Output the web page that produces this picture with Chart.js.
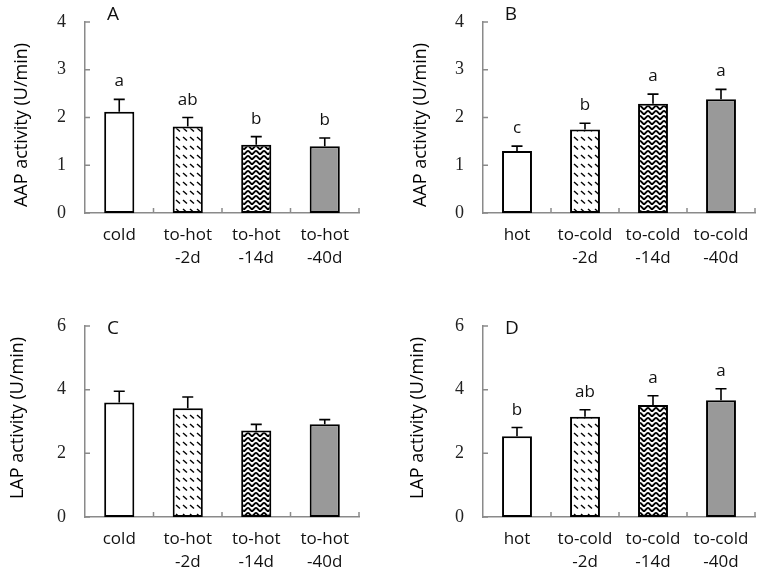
<!DOCTYPE html>
<html>
<head>
<meta charset="utf-8">
<script src="https://cdn.jsdelivr.net/npm/chart.js@4.4.0/dist/chart.umd.min.js"></script>
<style>
  html, body { margin: 0; padding: 0; background: #fff; }
  #grid { position: relative; width: 768px; height: 574px; }
  #grid canvas { position: absolute; }
</style>
</head>
<body>
<div id="grid">
  <canvas id="chartA" width="384" height="287" style="left:0;top:0"></canvas>
  <canvas id="chartB" width="384" height="287" style="left:384px;top:0"></canvas>
  <canvas id="chartC" width="384" height="287" style="left:0;top:287px"></canvas>
  <canvas id="chartD" width="384" height="287" style="left:384px;top:287px"></canvas>
</div>
<script>
// --- dati ---
const toHotLabels = [['cold'], ['to-hot', '-2d'], ['to-hot', '-14d'], ['to-hot', '-40d']];
const toColdLabels = [['hot'], ['to-cold', '-2d'], ['to-cold', '-14d'], ['to-cold', '-40d']];

const aapToHot = [2.12, 1.81, 1.43, 1.40];
const aapToHotErr = [0.26, 0.19, 0.17, 0.17];
const aapToHotSig = ['a', 'ab', 'b', 'b'];

const aapToCold = [1.30, 1.75, 2.29, 2.38];
const aapToColdErr = [0.10, 0.13, 0.20, 0.21];
const aapToColdSig = ['c', 'b', 'a', 'a'];

const lapToHot = [3.60, 3.42, 2.72, 2.91];
const lapToHotErr = [0.35, 0.35, 0.19, 0.15];
const lapToHotSig = ['', '', '', ''];

const lapToCold = [2.54, 3.15, 3.52, 3.67];
const lapToColdErr = [0.27, 0.22, 0.29, 0.36];
const lapToColdSig = ['b', 'ab', 'a', 'a'];

const aapTicks = [0, 1, 2, 3, 4];
const lapTicks = [0, 2, 4, 6];

const AXIS = '#8a8a8a';
const SANS = '"Open Sans", sans-serif';
const SERIF = '"Liberation Serif", serif';

// pattern "\\" a trattini
function makeHatch() {
  const c = document.createElement('canvas');
  c.width = 7; c.height = 9;
  const g = c.getContext('2d');
  g.fillStyle = '#fff'; g.fillRect(0, 0, 7, 9);
  g.strokeStyle = '#000'; g.lineWidth = 1.4;
  g.beginPath(); g.moveTo(1, 2); g.lineTo(5, 5.5); g.stroke();
  return g.createPattern(c, 'repeat');
}

// pattern a spina di pesce (approssimato con zig-zag fitto)
function makeZigzag() {
  const c = document.createElement('canvas');
  c.width = 8; c.height = 5;
  const g = c.getContext('2d');
  g.fillStyle = '#fff'; g.fillRect(0, 0, 8, 5);
  g.strokeStyle = '#000'; g.lineWidth = 1.9;
  g.beginPath(); g.moveTo(0, 0.5); g.lineTo(4, 4.5); g.lineTo(8, 0.5); g.stroke();
  return g.createPattern(c, 'repeat');
}

const barFills = ['#ffffff', makeHatch(), makeZigzag(), '#999999'];

// error bar, lettere, tacche interne, titoli
const overlayPlugin = {
  id: 'overlay',
  afterDatasetsDraw(chart, args, o) {
    const { ctx, chartArea } = chart;
    const ys = chart.scales.y;
    const meta = chart.getDatasetMeta(0);
    ctx.save();

    ctx.strokeStyle = '#000';
    ctx.lineWidth = 1.6;
    ctx.fillStyle = '#111';
    ctx.font = '17px ' + SANS;
    ctx.textAlign = 'center';
    ctx.textBaseline = 'alphabetic';
    o.values.forEach((v, i) => {
      const cx = meta.data[i].x;
      const y0 = ys.getPixelForValue(v);
      const y1 = ys.getPixelForValue(v + o.errs[i]);
      ctx.beginPath();
      ctx.moveTo(cx, y0); ctx.lineTo(cx, y1);
      ctx.moveTo(cx - 5.5, y1); ctx.lineTo(cx + 5.5, y1);
      ctx.stroke();
      if (o.sig[i]) ctx.fillText(o.sig[i], cx, y1 - 13);
    });

    // tacche verso l'interno
    ctx.strokeStyle = AXIS;
    ctx.lineWidth = 1.5;
    ctx.beginPath();
    o.ticks.forEach(t => {
      const py = ys.getPixelForValue(t);
      ctx.moveTo(chartArea.left, py); ctx.lineTo(chartArea.left + 5, py);
    });
    const n = meta.data.length;
    for (let i = 0; i < n; i++) {
      const px = i < n - 1 ? (meta.data[i].x + meta.data[i + 1].x) / 2 : chartArea.right;
      ctx.moveTo(px, chartArea.bottom); ctx.lineTo(px, chartArea.bottom - 5);
    }
    ctx.stroke();

    // lettera del pannello
    ctx.fillStyle = '#111';
    ctx.font = '19px ' + SANS;
    ctx.textBaseline = 'middle';
    ctx.fillText(o.letter, o.letterX, o.letterY);

    // titolo asse y
    ctx.translate(o.titleX, o.titleY);
    ctx.rotate(-Math.PI / 2);
    ctx.fillStyle = '#000';
    ctx.font = '18px ' + SANS;
    ctx.fillText(o.yTitle, 0, 0);
    ctx.restore();
  }
};

function makePanel(id, p) {
  return new Chart(document.getElementById(id), {
    type: 'bar',
    data: {
      labels: p.labels,
      datasets: [{
        data: p.values,
        backgroundColor: barFills,
        borderColor: '#000',
        borderWidth: 2,
        borderSkipped: false,
        categoryPercentage: 1,
        barPercentage: 0.44
      }]
    },
    options: {
      responsive: false,
      animation: false,
      layout: { padding: { left: 0, top: p.top, right: 384 - p.right, bottom: 0 } },
      plugins: {
        legend: { display: false },
        tooltip: { enabled: false },
        overlay: {
          values: p.values, errs: p.errs, sig: p.sig, ticks: p.ticks,
          letter: p.letter, letterX: p.letterX, letterY: p.letterY,
          yTitle: p.yTitle, titleX: p.titleX, titleY: p.titleY
        }
      },
      scales: {
        x: {
          grid: { display: false, drawTicks: false },
          border: { display: true, color: AXIS, width: 1.5 },
          ticks: { color: '#111', padding: 11, maxRotation: 0, font: { family: SANS, size: 17, lineHeight: 1.35 } },
          afterFit: s => { s.height = 287 - p.bottom; s.paddingLeft = 0; s.paddingRight = 0; }
        },
        y: {
          min: 0,
          max: p.ticks[p.ticks.length - 1],
          afterBuildTicks: s => { s.ticks = p.ticks.map(v => ({ value: v })); },
          grid: { display: false, drawTicks: false },
          border: { display: true, color: AXIS, width: 1.5 },
          ticks: { color: '#222', padding: 19, font: { family: SERIF, size: 18 } },
          // niente padding automatico: l'area del grafico resta dove la vogliamo
          afterFit: s => { s.width = p.left; s.paddingTop = 0; s.paddingBottom = 0; }
        }
      }
    },
    plugins: [overlayPlugin]
  });
}

makePanel('chartA', {
  labels: toHotLabels, values: aapToHot, errs: aapToHotErr, sig: aapToHotSig, ticks: aapTicks,
  left: 85, right: 359, top: 22, bottom: 213,
  letter: 'A', letterX: 113, letterY: 15,
  yTitle: 'AAP activity (U/min)', titleX: 22, titleY: 125
});
makePanel('chartB', {
  labels: toColdLabels, values: aapToCold, errs: aapToColdErr, sig: aapToColdSig, ticks: aapTicks,
  left: 99, right: 371, top: 22, bottom: 213,
  letter: 'B', letterX: 127, letterY: 15,
  yTitle: 'AAP activity (U/min)', titleX: 37, titleY: 125
});
makePanel('chartC', {
  labels: toHotLabels, values: lapToHot, errs: lapToHotErr, sig: lapToHotSig, ticks: lapTicks,
  left: 85, right: 359, top: 39, bottom: 230,
  letter: 'C', letterX: 113, letterY: 42,
  yTitle: 'LAP activity (U/min)', titleX: 18, titleY: 131
});
makePanel('chartD', {
  labels: toColdLabels, values: lapToCold, errs: lapToColdErr, sig: lapToColdSig, ticks: lapTicks,
  left: 99, right: 371, top: 39, bottom: 230,
  letter: 'D', letterX: 128, letterY: 42,
  yTitle: 'LAP activity (U/min)', titleX: 34, titleY: 131
});
</script>
</body>
</html>
